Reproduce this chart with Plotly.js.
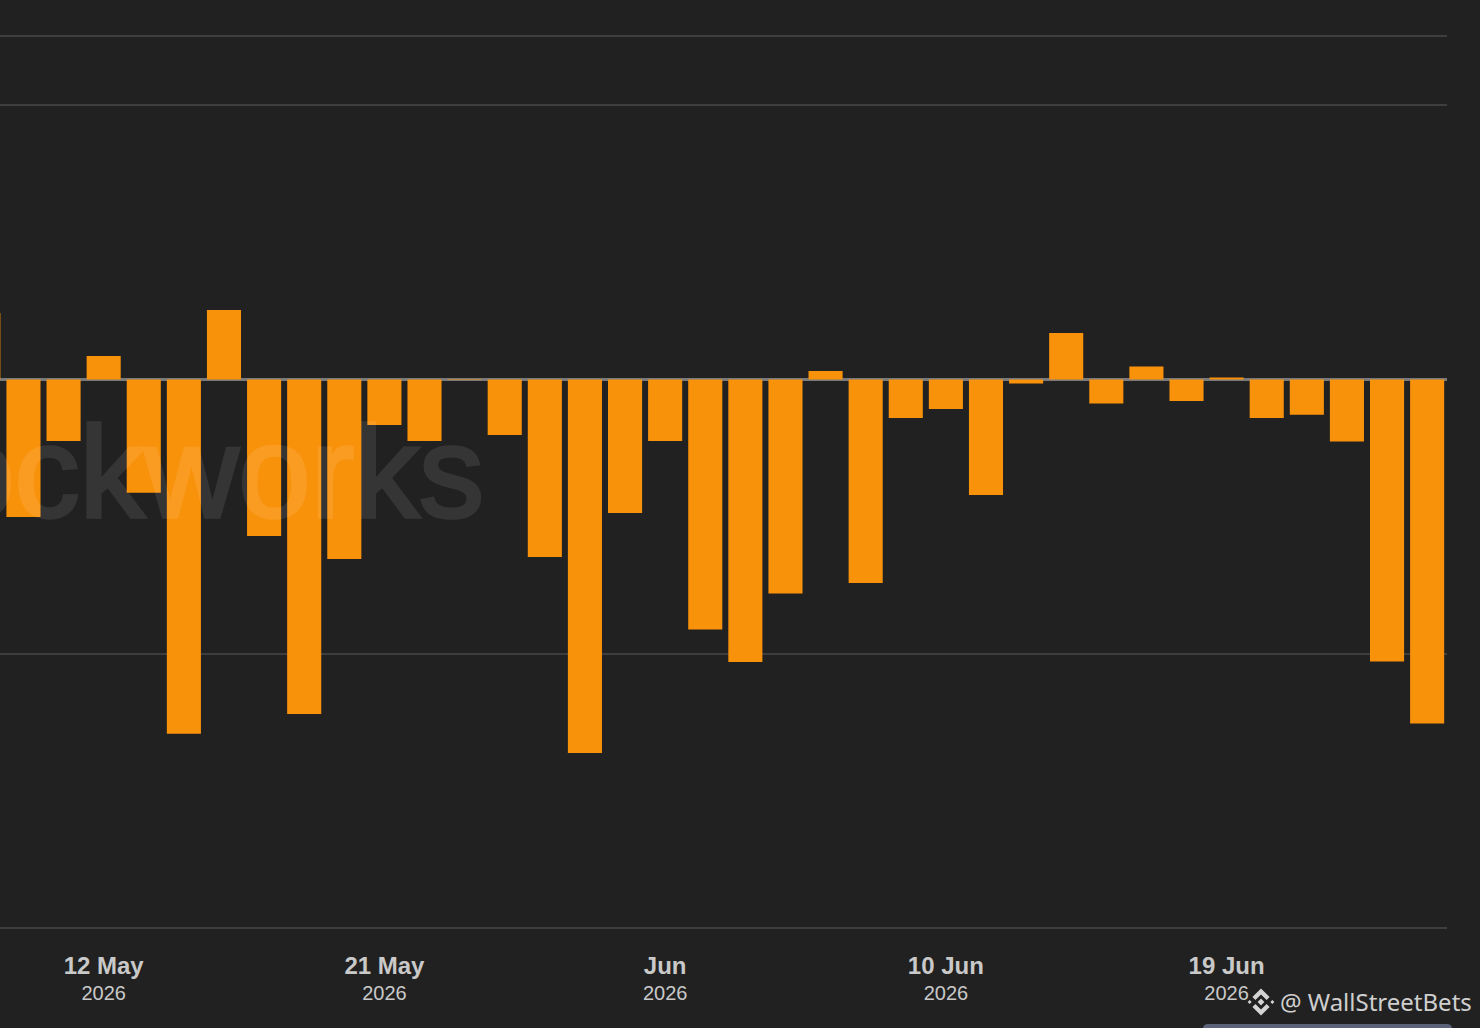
<!DOCTYPE html>
<html>
<head>
<meta charset="utf-8">
<script src="https://cdn.plot.ly/plotly-3.0.1.min.js"></script>
<style>html,body{margin:0;padding:0;background:#212121;overflow:hidden}#chart{width:1480px;height:1028px}
.annotation[data-index="0"] text{stroke:#fff;stroke-width:3.5px}</style>
</head>
<body>
<div id="chart"></div>
<script>
const dates = ["7 May","8 May","11 May","12 May","13 May","14 May","15 May","18 May","19 May","20 May","21 May","22 May","25 May","26 May","27 May","28 May","29 May","1 Jun","2 Jun","3 Jun","4 Jun","5 Jun","8 Jun","9 Jun","10 Jun","11 Jun","12 Jun","15 Jun","16 Jun","17 Jun","18 Jun","19 Jun","22 Jun","23 Jun","24 Jun","25 Jun","26 Jun"];
const flows = [24.2,-50.1,-22.4,8.6,-41.3,-129.1,25.3,-57.0,-121.9,-65.4,-16.6,-22.4,0.2,-20.2,-64.7,-136.1,-48.6,-22.4,-91.1,-102.9,-78.0,3.1,-74.1,-14.0,-10.7,-42.1,-1.5,16.9,-8.7,4.7,-7.8,0.7,-14.0,-12.8,-22.6,-102.7,-125.3];
const tickDates = ["12 May","21 May","1 Jun","10 Jun","19 Jun"];
const tickLabels = ["12 May","21 May","Jun","10 Jun","19 Jun"];
const tickYears = ["2026","2026","2026","2026","2026"];
const gridValues = [-199.8,-100,0,100,125.14];

const W=1480, H=1028, L=0, R=33, T=34, B=98;
const px = x => (x-L)/(W-L-R);
const py = y => (H-B-y)/(H-T-B);

const logo = "data:image/svg+xml;utf8," + encodeURIComponent(
 '<svg xmlns="http://www.w3.org/2000/svg" viewBox="0 0 28 28"><g fill="#d4d4d4">'+
 '<path d="M14 0.5l8.6 8.6-3 3L14 6.5 8.4 12.1l-3-3z"/>'+
 '<path d="M14 27.5l8.6-8.6-3-3L14 21.5 8.4 15.9l-3 3z"/>'+
 '<path d="M14 10.6l3.4 3.4-3.4 3.4-3.4-3.4z"/>'+
 '<path d="M2.6 12l2 2-2 2-2-2z"/>'+
 '<path d="M25.4 12l2 2-2 2-2-2z"/>'+
 '</g></svg>');

const bx0=px(1203), bx1=px(1452), by0=py(1032), by1=py(1024), rxp=px(5), ryp=5/(H-T-B);

Plotly.newPlot('chart',[{
  type:'bar',
  x:dates, y:flows,
  width:0.85,
  marker:{color:'#F9920B',line:{width:0}},
  hoverinfo:'x+y'
}],{
  width:W,height:H,
  margin:{l:L,r:R,t:T,b:B,pad:0},
  paper_bgcolor:'#212121',plot_bgcolor:'#212121',
  showlegend:false,
  bargap:0.15,
  xaxis:{
    type:'category',
    categoryorder:'array',categoryarray:dates,
    range:[0.415,36.495],
    tickmode:'array',
    tickvals:tickDates,
    ticktext:tickLabels.map((t,i)=>'<b style="font-size:24px">'+t+'</b><br><span style="font-size:20px">'+tickYears[i]+'</span>'),
    tickfont:{family:'"Liberation Sans",Arial,sans-serif',size:19.5,color:'#c9c9c9'},
    ticks:'outside',ticklen:20,tickcolor:'rgba(0,0,0,0)',
    showgrid:false,zeroline:false,showline:false,tickangle:0
  },
  yaxis:{
    range:[-200.55,125.87],
    tickmode:'array',tickvals:gridValues,
    showticklabels:false,ticks:'',
    showgrid:true,gridcolor:'#3e3e3e',gridwidth:2,
    zeroline:true,zerolinecolor:'#7a7a7a',zerolinewidth:2.5,showline:false
  },
  annotations:[
    {xref:'paper',yref:'paper',x:px(486),y:py(472),xanchor:'right',yanchor:'middle',
     text:'blockworks',showarrow:false,opacity:0.09,
     font:{family:'"Liberation Sans",Arial,sans-serif',size:130,color:'#ffffff'}},
    {xref:'paper',yref:'paper',x:px(1474),y:py(1001),xanchor:'right',yanchor:'middle',
     text:'@ WallStreetBets',showarrow:false,
     font:{family:'"Noto Sans",sans-serif',size:24,color:'#cfcfcf'}}
  ],
  images:[{source:logo,xref:'paper',yref:'paper',x:px(1247),y:py(988),sizex:28/(W-L-R),sizey:28/(H-T-B),
     xanchor:'left',yanchor:'top',sizing:'contain',layer:'above'}],
  shapes:[{type:'path',xref:'paper',yref:'paper',
     path:`M${bx0},${by0}L${bx0},${by1-ryp}Q${bx0},${by1} ${bx0+rxp},${by1}L${bx1-rxp},${by1}Q${bx1},${by1} ${bx1},${by1-ryp}L${bx1},${by0}Z`,
     fillcolor:'#5b6379',line:{width:0}}]
},{displayModeBar:false,staticPlot:true});
</script>
</body>
</html>
